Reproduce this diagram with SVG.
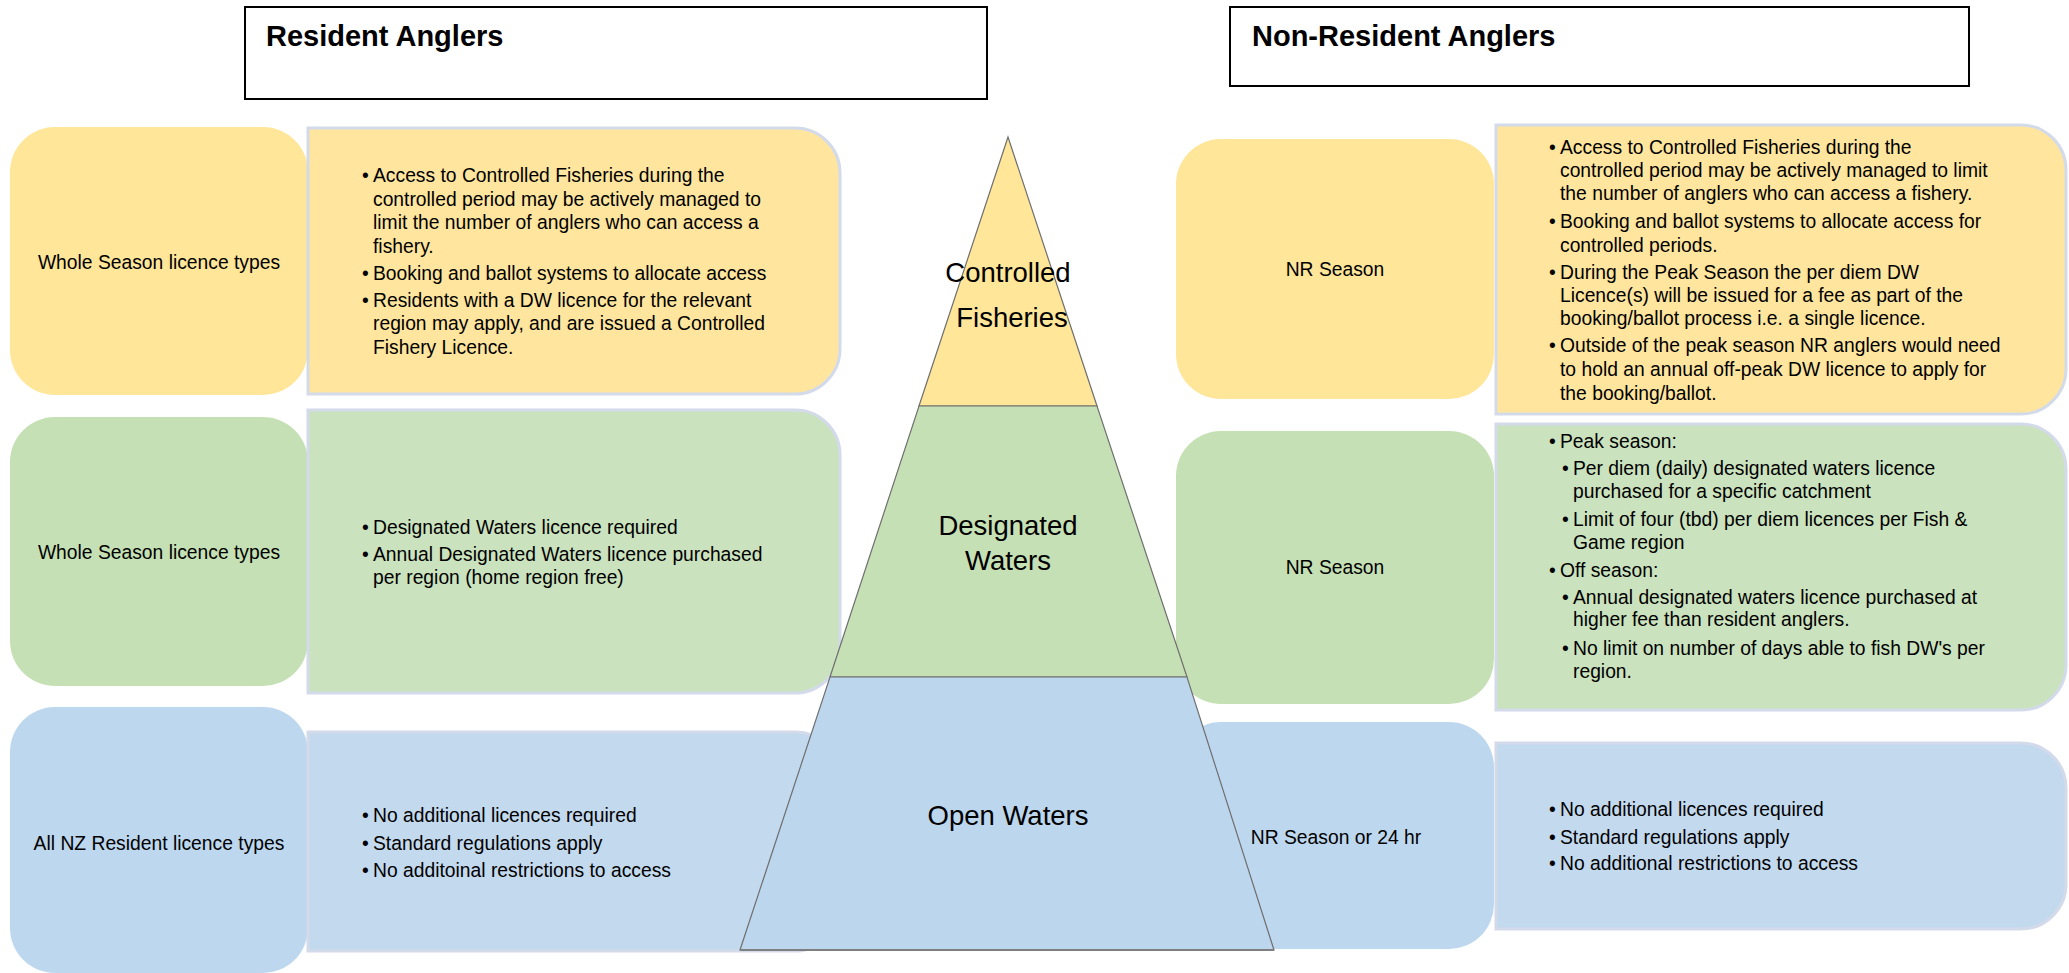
<svg xmlns="http://www.w3.org/2000/svg" width="2069" height="973" viewBox="0 0 2069 973">
<style>
text{font-family:"Liberation Sans",Arial,sans-serif;fill:#000}
.title{font-size:29px;font-weight:bold}
.body{font-size:19.3px}
.lbl{font-size:19.3px;text-anchor:middle}
.pyr{font-size:27.5px;text-anchor:middle}
.hdr{fill:#fff;stroke:#000;stroke-width:2}
.tb{stroke:#d3daea;stroke-width:3}
.y1{fill:#ffe699}.y2{fill:#ffe59d}
.g1{fill:#c5e0b4}.g2{fill:#cae2bd}
.b1{fill:#bdd7ee}.b2{fill:#c3d9ee}
.seg{stroke:#6f6f6f;stroke-width:1.2}
</style>
<rect width="2069" height="973" fill="#fff"/>

<g id="hdr-resident">
<rect class="hdr" x="245" y="7" width="742" height="92"/>
<text class="title" x="266" y="46">Resident Anglers</text>
</g>
<g id="hdr-nonresident">
<rect class="hdr" x="1230" y="7" width="739" height="79"/>
<text class="title" x="1252" y="46">Non-Resident Anglers</text>
</g>

<!-- Resident left column -->
<g id="res-cf-label">
<rect class="y1" x="10" y="127" width="298" height="268" rx="45"/>
<text class="lbl" x="159" y="269">Whole Season licence types</text>
</g>
<g id="res-cf-text">
<path class="tb y2" d="M308,128 H795 A45,45 0 0 1 840,173 V349 A45,45 0 0 1 795,394 H308 Z"/>
<text class="body"><tspan x="362" y="182">•</tspan><tspan x="373" y="182">Access to Controlled Fisheries during the</tspan><tspan x="373" y="205.5">controlled period may be actively managed to</tspan><tspan x="373" y="228.5">limit the number of anglers who can access a</tspan><tspan x="373" y="252.5">fishery.</tspan><tspan x="362" y="279.5">•</tspan><tspan x="373" y="279.5">Booking and ballot systems to allocate access</tspan><tspan x="362" y="306.5">•</tspan><tspan x="373" y="306.5">Residents with a DW licence for the relevant</tspan><tspan x="373" y="329.5">region may apply, and are issued a Controlled</tspan><tspan x="373" y="353.5">Fishery Licence.</tspan></text>
</g>

<g id="res-dw-label">
<rect class="g1" x="10" y="417" width="298" height="269" rx="45"/>
<text class="lbl" x="159" y="559">Whole Season licence types</text>
</g>
<g id="res-dw-text">
<path class="tb g2" d="M308,410 H795 A45,45 0 0 1 840,455 V648 A45,45 0 0 1 795,693 H308 Z"/>
<text class="body"><tspan x="362" y="534">•</tspan><tspan x="373" y="534">Designated Waters licence required</tspan><tspan x="362" y="561">•</tspan><tspan x="373" y="561">Annual Designated Waters licence purchased</tspan><tspan x="373" y="584">per region (home region free)</tspan></text>
</g>

<g id="res-ow-label">
<rect class="b1" x="10" y="707" width="298" height="266" rx="45"/>
<text class="lbl" x="159" y="850">All NZ Resident licence types</text>
</g>
<g id="res-ow-text">
<path class="tb b2" d="M308,732 H795 A45,45 0 0 1 840,777 V906 A45,45 0 0 1 795,951 H308 Z"/>
<text class="body"><tspan x="362" y="822">•</tspan><tspan x="373" y="822">No additional licences required</tspan><tspan x="362" y="850">•</tspan><tspan x="373" y="850">Standard regulations apply</tspan><tspan x="362" y="877">•</tspan><tspan x="373" y="877">No additoinal restrictions to access</tspan></text>
</g>

<!-- Non-resident right column -->
<g id="nr-cf-label">
<rect class="y1" x="1176" y="139" width="318" height="260" rx="45"/>
<text class="lbl" x="1335" y="276">NR Season</text>
</g>
<g id="nr-cf-text">
<path class="tb y2" d="M1496,125 H2021 A45,45 0 0 1 2066,170 V369 A45,45 0 0 1 2021,414 H1496 Z"/>
<text class="body"><tspan x="1549" y="154">•</tspan><tspan x="1560" y="154">Access to Controlled Fisheries during the</tspan><tspan x="1560" y="177">controlled period may be actively managed to limit</tspan><tspan x="1560" y="200">the number of anglers who can access a fishery.</tspan><tspan x="1549" y="228">•</tspan><tspan x="1560" y="228">Booking and ballot systems to allocate access for</tspan><tspan x="1560" y="252">controlled periods.</tspan><tspan x="1549" y="279">•</tspan><tspan x="1560" y="279">During the Peak Season the per diem DW</tspan><tspan x="1560" y="302">Licence(s) will be issued for a fee as part of the</tspan><tspan x="1560" y="325">booking/ballot process i.e. a single licence.</tspan><tspan x="1549" y="352">•</tspan><tspan x="1560" y="352">Outside of the peak season NR anglers would need</tspan><tspan x="1560" y="376">to hold an annual off-peak DW licence to apply for</tspan><tspan x="1560" y="400">the booking/ballot.</tspan></text>
</g>

<g id="nr-dw-label">
<rect class="g1" x="1176" y="431" width="318" height="273" rx="45"/>
<text class="lbl" x="1335" y="574">NR Season</text>
</g>
<g id="nr-dw-text">
<path class="tb g2" d="M1496,424 H2021 A45,45 0 0 1 2066,469 V665 A45,45 0 0 1 2021,710 H1496 Z"/>
<text class="body"><tspan x="1549" y="448">•</tspan><tspan x="1560" y="448">Peak season:</tspan><tspan x="1562" y="475">•</tspan><tspan x="1573" y="475">Per diem (daily) designated waters licence</tspan><tspan x="1573" y="498">purchased for a specific catchment</tspan><tspan x="1562" y="526">•</tspan><tspan x="1573" y="526">Limit of four (tbd) per diem licences per Fish &amp;</tspan><tspan x="1573" y="549">Game region</tspan><tspan x="1549" y="577">•</tspan><tspan x="1560" y="577">Off season:</tspan><tspan x="1562" y="604">•</tspan><tspan x="1573" y="604">Annual designated waters licence purchased at</tspan><tspan x="1573" y="626">higher fee than resident anglers.</tspan><tspan x="1562" y="655">•</tspan><tspan x="1573" y="655">No limit on number of days able to fish DW's per</tspan><tspan x="1573" y="678">region.</tspan></text>
</g>

<g id="nr-ow-label">
<rect class="b1" x="1176" y="722" width="318" height="227" rx="45"/>
<text class="lbl" x="1336" y="844">NR Season or 24 hr</text>
</g>
<g id="nr-ow-text">
<path class="tb b2" d="M1496,743 H2021 A45,45 0 0 1 2066,788 V884 A45,45 0 0 1 2021,929 H1496 Z"/>
<text class="body"><tspan x="1549" y="816">•</tspan><tspan x="1560" y="816">No additional licences required</tspan><tspan x="1549" y="844">•</tspan><tspan x="1560" y="844">Standard regulations apply</tspan><tspan x="1549" y="870">•</tspan><tspan x="1560" y="870">No additional restrictions to access</tspan></text>
</g>

<!-- Pyramid -->
<g id="pyr-cf">
<polygon class="seg" fill="#ffe699" points="1008,137 1097,406 919,406"/>
<text class="pyr" x="1008" y="282">Controlled</text>
<text class="pyr" x="1012" y="327">Fisheries</text>
</g>
<g id="pyr-dw">
<polygon class="seg" fill="#c5e0b4" points="919,406 1097,406 1187,677 830,677"/>
<text class="pyr" x="1008" y="535">Designated</text>
<text class="pyr" x="1008" y="570">Waters</text>
</g>
<g id="pyr-ow">
<polygon class="seg" fill="#bcd6ed" points="830,677 1187,677 1274,950 740,950"/>
<line x1="740" y1="950" x2="1274" y2="950" stroke="#7f7f7f" stroke-width="2"/>
<text class="pyr" x="1008" y="825">Open Waters</text>
</g>
<g id="connectors"></g>
</svg>
